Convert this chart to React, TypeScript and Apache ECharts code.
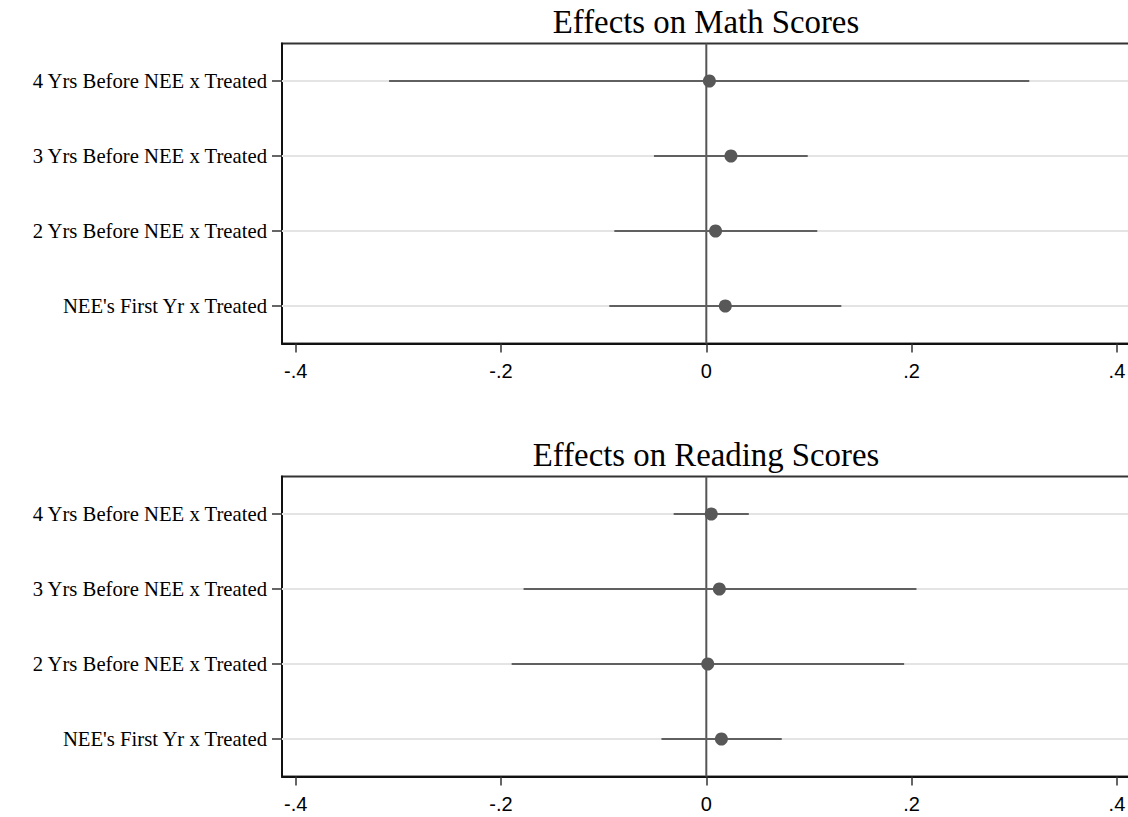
import React, { useEffect, useRef } from "react";
import * as echarts from "echarts";

const categories = [
  "4 Yrs Before NEE x Treated",
  "3 Yrs Before NEE x Treated",
  "2 Yrs Before NEE x Treated",
  "NEE's First Yr x Treated",
];
const titles = ["Effects on Math Scores", "Effects on Reading Scores"];

const mathEst = [0.003, 0.024, 0.009, 0.0185];
const mathLow = [-0.309, -0.051, -0.0896, -0.0945];
const mathHigh = [0.3146, 0.0988, 0.1081, 0.1315];

const readEst = [0.0048, 0.0127, 0.0014, 0.0147];
const readLow = [-0.0318, -0.178, -0.1896, -0.0437];
const readHigh = [0.0414, 0.2047, 0.1927, 0.0735];

const xTicks = [-0.4, -0.2, 0, 0.2, 0.4];
const xMin = -0.4133;
const xMax = 0.4127;

const SERIF = "'Liberation Serif', 'Times New Roman', serif";
const SANS = "'Liberation Sans', Arial, sans-serif";

const fmt = (v: number) => {
  if (Math.abs(v) < 1e-9) return "0";
  const s = String(Math.round(v * 10) / 10);
  return s.replace("0.", ".");
};

function panelSeries(i: number, est: number[], low: number[], high: number[]) {
  const rows = categories.map((_, k) => [k, low[k], high[k]]);
  return [
    {
      type: "custom",
      xAxisIndex: i,
      yAxisIndex: i,
      z: 1,
      silent: true,
      encode: { x: [1, 2], y: 0 },
      data: rows,
      renderItem: (params: any, api: any) => {
        const k = api.value(0);
        const p1 = api.coord([xMin, k]);
        const p2 = api.coord([xMax, k]);
        return {
          type: "line",
          shape: { x1: p1[0], y1: p1[1], x2: p2[0], y2: p2[1] },
          style: { stroke: "#e4e4e4", lineWidth: 2 },
        };
      },
    },
    {
      type: "custom",
      xAxisIndex: i,
      yAxisIndex: i,
      z: 2,
      silent: true,
      encode: { x: 0, y: 1 },
      data: [[0, 0]],
      renderItem: (params: any, api: any) => {
        const x = api.coord([0, 0])[0];
        const cs = params.coordSys;
        return {
          type: "line",
          shape: { x1: x, y1: cs.y, x2: x, y2: cs.y + cs.height },
          style: { stroke: "#555", lineWidth: 2 },
        };
      },
    },
    {
      type: "custom",
      xAxisIndex: i,
      yAxisIndex: i,
      z: 3,
      silent: true,
      encode: { x: [1, 2], y: 0 },
      data: rows,
      renderItem: (params: any, api: any) => {
        const k = api.value(0);
        const p1 = api.coord([api.value(1), k]);
        const p2 = api.coord([api.value(2), k]);
        return {
          type: "line",
          shape: { x1: p1[0], y1: p1[1], x2: p2[0], y2: p2[1] },
          style: { stroke: "#606060", lineWidth: 2 },
        };
      },
    },
    {
      type: "scatter",
      xAxisIndex: i,
      yAxisIndex: i,
      z: 4,
      silent: true,
      symbol: "circle",
      symbolSize: 13,
      itemStyle: { color: "#585858", opacity: 1 },
      data: est.map((v, k) => [v, k]),
    },
  ];
}

const gridTops = [43.5, 476.5];
const gridHeight = 300;

export default function App() {
  const ref = useRef<HTMLDivElement>(null);
  useEffect(() => {
    const chart = echarts.init(ref.current!, null, { renderer: "svg" });
    const grids = gridTops.map((t) => ({
      left: 282,
      right: -2,
      top: t,
      height: gridHeight,
      show: true,
      borderColor: "#333",
      borderWidth: 2,
      backgroundColor: "transparent",
      outerBoundsMode: "none",
      containLabel: false,
    }));
    const xAxes = gridTops.map((_, i) => ({
      type: "value",
      gridIndex: i,
      min: xMin,
      max: xMax,
      axisLine: { show: true, onZero: false, lineStyle: { color: "#111", width: 2 } },
      axisTick: {
        show: true,
        length: 9,
        customValues: xTicks,
        lineStyle: { color: "#333", width: 1.5 },
      },
      axisLabel: {
        customValues: xTicks,
        formatter: (v: number) => fmt(v),
        fontFamily: SANS,
        fontSize: 20,
        color: "#000",
        margin: 17,
      },
      splitLine: { show: false },
    }));
    const yAxes = gridTops.map((_, i) => ({
      type: "category",
      gridIndex: i,
      data: categories,
      inverse: true,
      axisLine: { show: true, onZero: false, lineStyle: { color: "#111", width: 2 } },
      axisTick: {
        show: true,
        alignWithLabel: true,
        length: 10,
        lineStyle: { color: "#333", width: 1.5 },
      },
      axisLabel: {
        fontFamily: SERIF,
        fontSize: 20.7,
        color: "#000",
        margin: 15,
      },
      splitLine: { show: false },
    }));
    chart.setOption({
      animation: false,
      backgroundColor: "#fff",
      grid: grids,
      xAxis: xAxes,
      yAxis: yAxes,
      graphic: titles.map((t, i) => ({
        type: "text",
        x: 706,
        y: gridTops[i] - 21.5,
        style: {
          text: t,
          font: `32.8px ${SERIF}`,
          fill: "#000",
          textAlign: "center",
          textVerticalAlign: "middle",
        },
      })),
      series: [
        ...panelSeries(0, mathEst, mathLow, mathHigh),
        ...panelSeries(1, readEst, readLow, readHigh),
      ],
    });
    return () => chart.dispose();
  }, []);
  return (
    <div
      ref={ref}
      style={{ position: "fixed", left: 0, top: 0, width: 1128, height: 817 }}
    />
  );
}
